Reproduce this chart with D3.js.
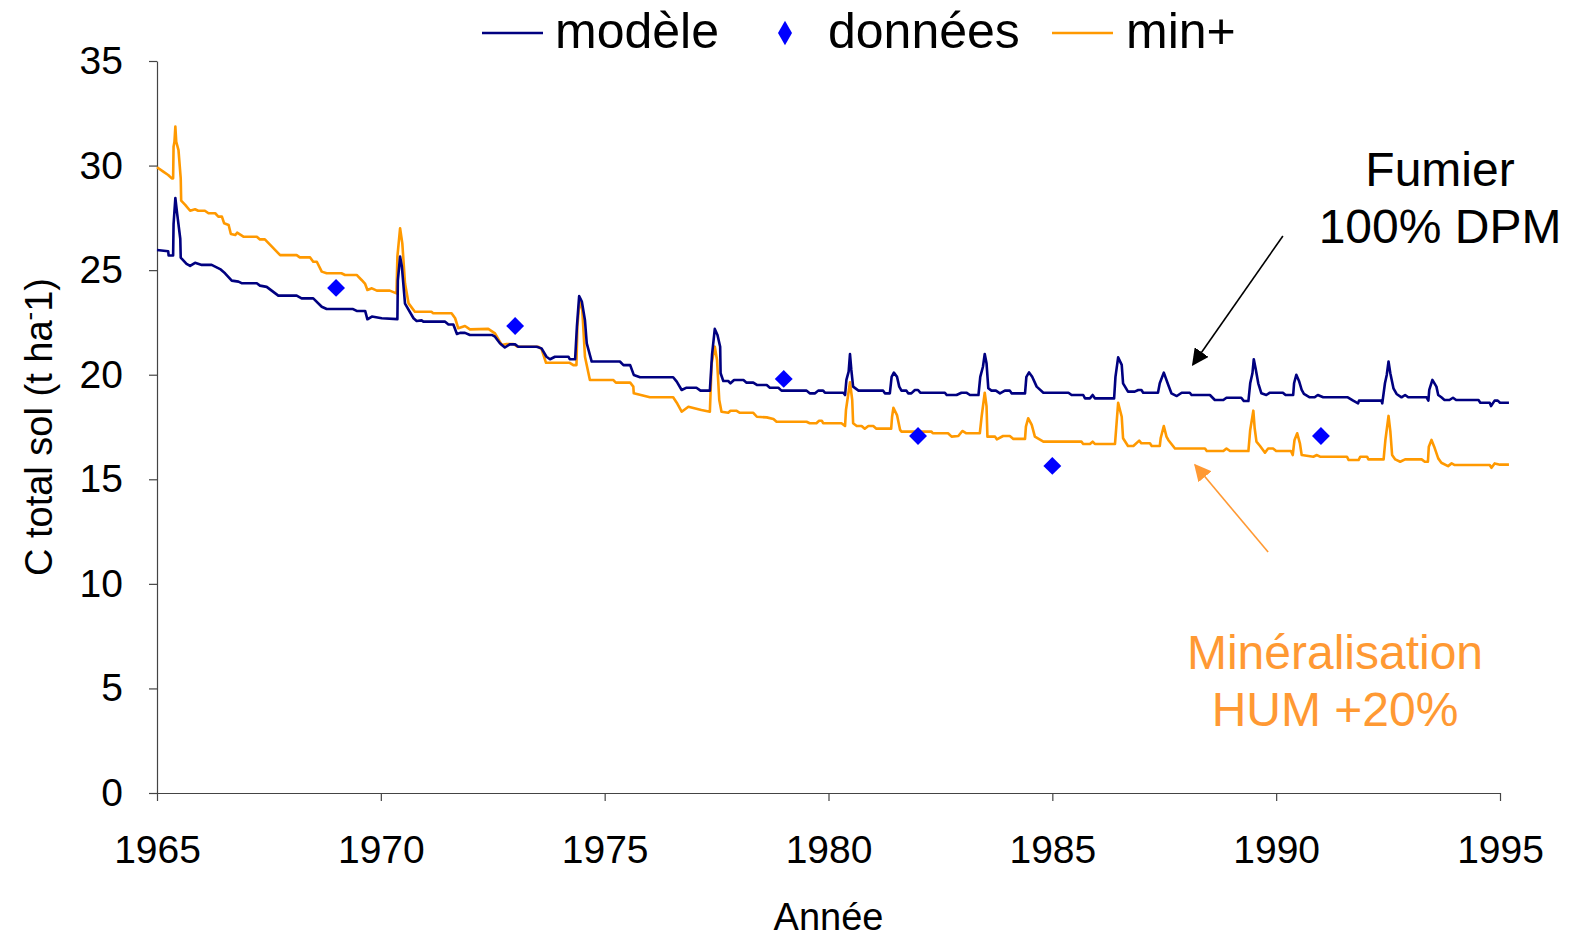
<!DOCTYPE html>
<html lang="fr">
<head>
<meta charset="UTF-8">
<title>C total sol</title>
<script src="https://d3js.org/d3.v7.min.js"></script>
<style>
    body { margin: 0; padding: 0; background: #fff; }
    svg { display: block; font-family: "Liberation Sans", Arial, sans-serif; }
    .axis path, .axis line { stroke: #444; stroke-width: 1.2px; }
    .axis text { font-size: 39px; fill: #000; font-family: "Liberation Sans", Arial, sans-serif; }
    .series { fill: none; stroke-width: 2.6px; stroke-linejoin: round; }
</style>
</head>
<body>
<div id="chart"></div>
<script>
// modèle (bleu marine) : [année, C t/ha]
const modele = [[1965.00,25.96],[1965.25,25.9],[1965.26,25.7],[1965.36,25.7],[1965.37,27.2],[1965.41,28.45],[1965.45,27.7],[1965.52,26.5],[1965.53,25.6],[1965.66,25.3],[1965.74,25.2],[1965.85,25.35],[1966.0,25.25],[1966.22,25.25],[1966.41,25.05],[1966.52,24.85],[1966.67,24.5],[1966.82,24.45],[1966.9,24.37],[1967.23,24.37],[1967.3,24.26],[1967.45,24.2],[1967.71,23.78],[1968.12,23.78],[1968.23,23.65],[1968.49,23.65],[1968.68,23.25],[1968.79,23.14],[1969.38,23.14],[1969.46,23.05],[1969.65,23.05],[1969.7,22.65],[1969.8,22.78],[1970.02,22.7],[1970.37,22.66],[1970.38,24.5],[1970.43,25.65],[1970.47,25.17],[1970.54,23.4],[1970.73,22.7],[1970.8,22.57],[1970.91,22.6],[1970.95,22.54],[1971.43,22.54],[1971.51,22.4],[1971.62,22.4],[1971.7,21.95],[1971.77,22.0],[1971.88,22.0],[1971.99,21.9],[1972.48,21.9],[1972.55,21.82],[1972.66,21.5],[1972.77,21.3],[1972.88,21.45],[1973.0,21.45],[1973.07,21.34],[1973.48,21.34],[1973.59,21.26],[1973.7,20.86],[1973.78,20.74],[1973.89,20.86],[1974.19,20.86],[1974.22,20.74],[1974.34,20.74],[1974.38,22.3],[1974.43,23.76],[1974.49,23.5],[1974.56,22.6],[1974.6,21.5],[1974.71,20.63],[1975.34,20.63],[1975.42,20.46],[1975.57,20.46],[1975.65,19.99],[1975.79,19.88],[1976.53,19.88],[1976.61,19.67],[1976.72,19.27],[1976.83,19.38],[1977.05,19.38],[1977.14,19.24],[1977.35,19.24],[1977.4,21.0],[1977.46,22.19],[1977.52,21.9],[1977.58,21.34],[1977.59,20.07],[1977.65,19.7],[1977.76,19.7],[1977.81,19.59],[1977.89,19.75],[1978.1,19.75],[1978.17,19.62],[1978.32,19.62],[1978.4,19.51],[1978.62,19.51],[1978.69,19.38],[1978.88,19.38],[1978.95,19.24],[1979.51,19.24],[1979.58,19.11],[1979.7,19.11],[1979.77,19.24],[1979.88,19.24],[1979.92,19.14],[1980.33,19.14],[1980.37,19.03],[1980.4,19.75],[1980.45,20.15],[1980.48,20.99],[1980.51,20.23],[1980.55,19.43],[1980.67,19.24],[1981.22,19.24],[1981.26,19.11],[1981.37,19.11],[1981.41,19.9],[1981.46,20.1],[1981.53,19.9],[1981.58,19.43],[1981.63,19.24],[1981.74,19.24],[1981.78,19.11],[1981.85,19.11],[1981.93,19.27],[1982.0,19.27],[1982.05,19.14],[1982.6,19.14],[1982.64,19.03],[1982.86,19.03],[1982.97,19.14],[1983.08,19.14],[1983.16,19.03],[1983.35,19.03],[1983.39,19.9],[1983.45,20.38],[1983.49,20.99],[1983.53,20.55],[1983.57,19.35],[1983.64,19.24],[1983.74,19.24],[1983.83,19.11],[1983.94,19.24],[1984.05,19.24],[1984.09,19.11],[1984.39,19.11],[1984.42,19.9],[1984.48,20.11],[1984.55,19.9],[1984.65,19.43],[1984.8,19.14],[1985.36,19.14],[1985.43,19.03],[1985.69,19.03],[1985.73,18.87],[1985.84,18.87],[1985.9,19.03],[1985.95,18.87],[1986.38,18.87],[1986.41,19.9],[1986.47,20.83],[1986.55,20.47],[1986.58,19.59],[1986.69,19.19],[1986.84,19.19],[1986.92,19.27],[1986.99,19.27],[1987.03,19.14],[1987.36,19.14],[1987.4,19.59],[1987.49,20.1],[1987.59,19.51],[1987.66,19.11],[1987.78,18.98],[1987.89,19.14],[1988.07,19.14],[1988.11,19.03],[1988.52,19.03],[1988.63,18.79],[1988.82,18.79],[1988.89,18.9],[1989.22,18.9],[1989.28,18.74],[1989.38,18.74],[1989.42,19.59],[1989.47,20.07],[1989.5,20.74],[1989.54,20.31],[1989.6,19.59],[1989.67,19.11],[1989.78,19.03],[1989.86,19.14],[1990.15,19.14],[1990.21,19.03],[1990.38,19.03],[1990.4,19.59],[1990.45,20.0],[1990.51,19.7],[1990.57,19.27],[1990.62,19.08],[1990.75,18.92],[1990.86,18.92],[1990.93,19.03],[1991.05,18.92],[1991.6,18.92],[1991.72,18.76],[1991.83,18.63],[1991.85,18.76],[1992.35,18.76],[1992.37,18.63],[1992.43,19.59],[1992.47,19.99],[1992.51,20.63],[1992.55,20.07],[1992.62,19.35],[1992.69,19.08],[1992.8,18.92],[1992.88,19.03],[1992.95,18.92],[1993.36,18.92],[1993.4,18.76],[1993.42,19.27],[1993.49,19.75],[1993.58,19.43],[1993.62,19.03],[1993.69,18.92],[1993.76,18.79],[1993.87,18.79],[1993.95,18.9],[1994.02,18.79],[1994.52,18.79],[1994.56,18.66],[1994.77,18.66],[1994.8,18.5],[1994.88,18.76],[1994.95,18.76],[1995.0,18.66],[1995.2,18.66]];

// min+ (orange)
const minPlus = [[1965.0,29.92],[1965.14,29.71],[1965.25,29.55],[1965.33,29.39],[1965.36,29.39],[1965.37,30.9],[1965.39,31.14],[1965.41,31.86],[1965.43,31.14],[1965.48,30.74],[1965.53,29.39],[1965.54,28.32],[1965.63,28.12],[1965.74,27.84],[1965.85,27.91],[1965.92,27.84],[1966.07,27.84],[1966.15,27.72],[1966.3,27.72],[1966.37,27.56],[1966.45,27.56],[1966.5,27.24],[1966.6,27.16],[1966.65,26.73],[1966.75,26.68],[1966.79,26.79],[1966.93,26.6],[1967.23,26.6],[1967.3,26.47],[1967.41,26.47],[1967.75,25.72],[1968.12,25.72],[1968.19,25.61],[1968.42,25.61],[1968.49,25.4],[1968.57,25.4],[1968.68,24.93],[1968.79,24.85],[1969.12,24.85],[1969.2,24.77],[1969.46,24.77],[1969.57,24.53],[1969.65,24.34],[1969.7,24.05],[1969.8,24.13],[1969.91,24.02],[1970.2,24.02],[1970.35,23.89],[1970.37,25.65],[1970.43,27.0],[1970.48,26.28],[1970.54,24.37],[1970.62,23.41],[1970.76,23.01],[1971.13,23.01],[1971.17,22.94],[1971.58,22.94],[1971.66,22.7],[1971.73,22.22],[1971.88,22.33],[1971.99,22.17],[1972.4,22.19],[1972.55,21.98],[1972.7,21.42],[1972.81,21.47],[1972.96,21.47],[1973.05,21.34],[1973.52,21.34],[1973.59,21.22],[1973.69,20.57],[1974.22,20.57],[1974.3,20.46],[1974.37,20.46],[1974.39,22.3],[1974.44,23.57],[1974.5,23.1],[1974.56,20.86],[1974.67,19.75],[1975.19,19.75],[1975.25,19.62],[1975.57,19.62],[1975.64,19.43],[1975.65,19.11],[1976.01,18.92],[1976.53,18.92],[1976.61,18.66],[1976.72,18.23],[1976.87,18.47],[1977.16,18.31],[1977.35,18.23],[1977.39,20.55],[1977.46,21.34],[1977.51,20.7],[1977.56,18.79],[1977.61,18.23],[1977.76,18.18],[1977.81,18.28],[1977.94,18.28],[1978.02,18.18],[1978.32,18.18],[1978.4,17.99],[1978.62,17.96],[1978.77,17.88],[1978.84,17.75],[1979.51,17.75],[1979.58,17.68],[1979.73,17.68],[1979.79,17.8],[1979.85,17.8],[1979.88,17.68],[1980.29,17.68],[1980.37,17.55],[1980.39,18.31],[1980.48,19.64],[1980.53,18.79],[1980.55,17.68],[1980.63,17.55],[1980.74,17.55],[1980.81,17.42],[1980.89,17.55],[1981.0,17.55],[1981.07,17.42],[1981.4,17.42],[1981.42,17.99],[1981.45,18.42],[1981.53,18.07],[1981.6,17.36],[1981.63,17.28],[1982.3,17.28],[1982.33,17.2],[1982.67,17.2],[1982.75,17.04],[1982.9,17.07],[1982.99,17.31],[1983.08,17.2],[1983.38,17.2],[1983.42,17.99],[1983.49,19.14],[1983.53,18.5],[1983.55,17.04],[1983.72,17.04],[1983.76,16.91],[1983.9,17.07],[1984.05,17.07],[1984.13,16.93],[1984.39,16.93],[1984.41,17.52],[1984.46,17.92],[1984.54,17.6],[1984.61,17.04],[1984.8,16.8],[1985.65,16.8],[1985.69,16.69],[1985.84,16.69],[1985.9,16.8],[1985.95,16.69],[1986.4,16.69],[1986.47,18.66],[1986.55,17.99],[1986.58,16.96],[1986.69,16.59],[1986.81,16.59],[1986.94,16.85],[1986.99,16.72],[1987.18,16.72],[1987.22,16.59],[1987.4,16.59],[1987.42,16.96],[1987.49,17.55],[1987.55,17.04],[1987.59,16.88],[1987.74,16.47],[1988.41,16.47],[1988.45,16.35],[1988.82,16.35],[1988.89,16.47],[1988.97,16.35],[1989.38,16.35],[1989.42,17.36],[1989.49,18.28],[1989.52,17.44],[1989.56,16.8],[1989.64,16.59],[1989.75,16.27],[1989.82,16.47],[1989.93,16.47],[1990.0,16.35],[1990.33,16.35],[1990.37,16.16],[1990.41,16.88],[1990.47,17.2],[1990.53,16.72],[1990.57,16.16],[1990.83,16.08],[1990.91,16.16],[1990.98,16.08],[1991.58,16.08],[1991.62,15.92],[1991.84,15.92],[1991.88,16.08],[1992.03,16.08],[1992.06,15.95],[1992.4,15.95],[1992.44,16.88],[1992.51,18.03],[1992.55,17.3],[1992.59,16.16],[1992.66,15.95],[1992.77,15.84],[1992.88,15.95],[1993.25,15.95],[1993.32,15.84],[1993.39,15.84],[1993.41,16.56],[1993.47,16.88],[1993.53,16.56],[1993.62,16.0],[1993.69,15.79],[1993.84,15.63],[1993.92,15.76],[1993.99,15.68],[1994.77,15.68],[1994.81,15.55],[1994.88,15.76],[1995.0,15.7],[1995.2,15.7]];

// données mesurées
const donneesYears = [1969, 1973, 1979, 1982, 1985, 1991];
const donneesValues = [24.15, 22.33, 19.8, 17.07, 15.64, 17.07];

const xTicks = [1965, 1970, 1975, 1980, 1985, 1990, 1995];
const yTicks = [0, 5, 10, 15, 20, 25, 30, 35];
const legendLabels = ["modèle", "données", "min+"];

const colModele = "#000080";
const colMin = "#FF9900";
const colDonnees = "#0000FF";
const colNote = "#FF9933";

const W = 1572, H = 939;
const margin = { top: 61, right: 72, bottom: 146, left: 157 };

const svg = d3.select("#chart").append("svg")
    .attr("width", W).attr("height", H);

const x = d3.scaleLinear().domain([1965, 1995]).range([margin.left, W - margin.right]);
const y = d3.scaleLinear().domain([0, 35]).range([H - margin.bottom, margin.top]);

// axes
svg.append("g")
    .attr("class", "axis")
    .attr("transform", `translate(${margin.left},0)`)
    .call(d3.axisLeft(y).tickValues(yTicks).tickSize(8).tickSizeOuter(0).tickPadding(26));

svg.append("g")
    .attr("class", "axis")
    .attr("transform", `translate(0,${H - margin.bottom})`)
    .call(d3.axisBottom(x).tickValues(xTicks).tickFormat(d3.format("d")).tickSize(8).tickSizeOuter(0).tickPadding(34));

// axis titles
svg.append("text")
    .attr("x", (x(1965) + x(1995)) / 2)
    .attr("y", 930)
    .attr("text-anchor", "middle")
    .style("font-size", "38px")
    .text("Année");

const yt = svg.append("text")
    .attr("transform", `translate(52,${(y(0) + y(35)) / 2}) rotate(-90)`)
    .attr("text-anchor", "middle")
    .style("font-size", "38px");
yt.append("tspan").text("C total sol (t ha");
yt.append("tspan").attr("dy", -14).style("font-size", "26px").text("-");
yt.append("tspan").attr("dy", 14).text("1)");

// series
const line = d3.line().x(d => x(d[0])).y(d => y(d[1]));

svg.append("path").datum(minPlus)
    .attr("class", "series")
    .attr("stroke", colMin)
    .attr("d", line);

svg.append("path").datum(modele)
    .attr("class", "series")
    .attr("stroke", colModele)
    .attr("d", line);

svg.selectAll(".pt")
    .data(donneesYears.map((yr, i) => [yr, donneesValues[i]]))
    .enter().append("path")
    .attr("class", "pt")
    .attr("d", d3.symbol().type(d3.symbolSquare).size(160))
    .attr("transform", d => `translate(${x(d[0])},${y(d[1])}) rotate(45)`)
    .attr("fill", colDonnees);

// legend
const lg = svg.append("g").style("font-size", "50px");
lg.append("line").attr("x1", 482).attr("x2", 543).attr("y1", 33).attr("y2", 33)
    .attr("stroke", colModele).attr("stroke-width", 2.6);
lg.append("text").attr("x", 555).attr("y", 48).text(legendLabels[0]);
lg.append("path")
    .attr("d", d3.symbol().type(d3.symbolDiamond).size(170))
    .attr("transform", "translate(785,33)")
    .attr("fill", colDonnees);
lg.append("text").attr("x", 828).attr("y", 48).text(legendLabels[1]);
lg.append("line").attr("x1", 1052).attr("x2", 1113).attr("y1", 33).attr("y2", 33)
    .attr("stroke", colMin).attr("stroke-width", 2.6);
lg.append("text").attr("x", 1126).attr("y", 48).text(legendLabels[2]);

// annotations
const defs = svg.append("defs");
[["arrBlack", "#000"], ["arrOrange", colNote]].forEach(([id, c]) => {
    defs.append("marker")
        .attr("id", id)
        .attr("viewBox", "0 -5 10 10")
        .attr("refX", 9).attr("refY", 0)
        .attr("markerWidth", 17).attr("markerHeight", 17)
        .attr("markerUnits", "userSpaceOnUse")
        .attr("orient", "auto")
      .append("path")
        .attr("d", "M0,-5L10,0L0,5Z")
        .attr("fill", c);
});

svg.append("line")
    .attr("x1", x(1990.15)).attr("y1", y(26.63))
    .attr("x2", x(1988.14)).attr("y2", y(20.48))
    .attr("stroke", "#000").attr("stroke-width", 1.6)
    .attr("marker-end", "url(#arrBlack)");

svg.append("line")
    .attr("x1", x(1989.82)).attr("y1", y(11.52))
    .attr("x2", x(1988.19)).attr("y2", y(15.68))
    .attr("stroke", colNote).attr("stroke-width", 1.6)
    .attr("marker-end", "url(#arrOrange)");

const noteFumier = svg.append("text")
    .attr("text-anchor", "middle")
    .style("font-size", "48px");
noteFumier.append("tspan").attr("x", x(1993.66)).attr("y", 186).text("Fumier");
noteFumier.append("tspan").attr("x", x(1993.66)).attr("y", 243).text("100% DPM");

const noteMin = svg.append("text")
    .attr("text-anchor", "middle")
    .attr("fill", colNote)
    .style("font-size", "48px");
noteMin.append("tspan").attr("x", 1335).attr("y", 669).text("Minéralisation");
noteMin.append("tspan").attr("x", 1335).attr("y", 726).text("HUM +20%");
</script>
</body>
</html>
